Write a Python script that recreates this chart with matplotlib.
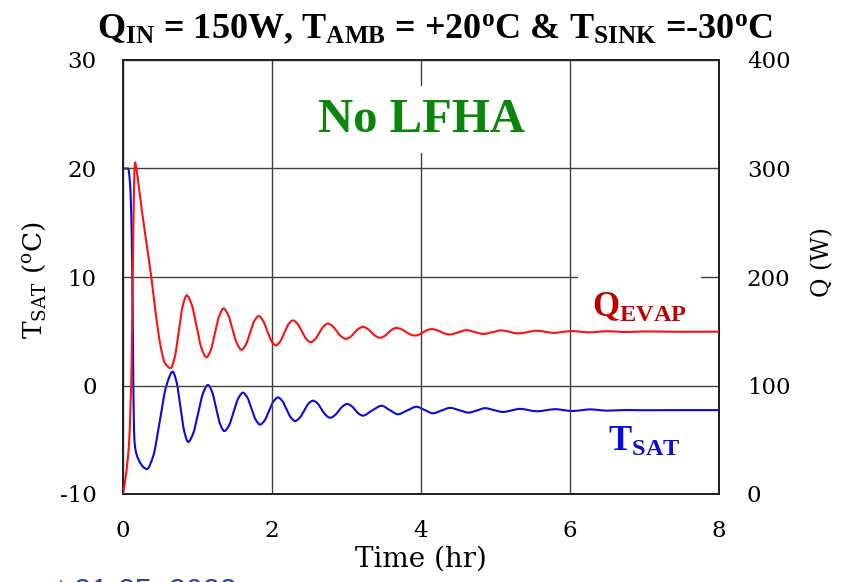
import matplotlib
matplotlib.use("Agg")
import matplotlib.pyplot as plt
from matplotlib.path import Path
from matplotlib.patches import PathPatch

plt.rcParams["font.family"] = "DejaVu Serif"
plt.rcParams["axes.unicode_minus"] = False
plt.rcParams["mathtext.fontset"] = "custom"
plt.rcParams["mathtext.rm"] = "DejaVu Serif"
plt.rcParams["mathtext.it"] = "DejaVu Serif:italic"
plt.rcParams["mathtext.bf"] = "Liberation Serif:bold"

# evaporator heat load, Q (W) vs time (hr)
time_q = [0.0, 0.04, 0.085, 0.1, 0.117, 0.13, 0.145, 0.16, 0.175, 0.2,
          0.25, 0.32, 0.385, 0.44, 0.5, 0.56, 0.64, 0.694, 0.748, 0.801,
          0.855, 0.921, 0.988, 1.054, 1.12, 1.178, 1.235, 1.293,
          1.35, 1.41, 1.47, 1.53, 1.59, 1.648, 1.705, 1.763,
          1.82, 1.878, 1.935, 1.993, 2.05, 2.108, 2.165, 2.223,
          2.28, 2.34, 2.4, 2.46, 2.52, 2.578, 2.635, 2.693,
          2.75, 2.81, 2.87, 2.93, 2.99, 3.048, 3.105, 3.163,
          3.22, 3.278, 3.335, 3.393, 3.45, 3.505, 3.56, 3.615,
          3.67, 3.733, 3.795, 3.858, 3.92, 3.975, 4.03, 4.085,
          4.14, 4.203, 4.265, 4.328, 4.39, 4.5, 4.61, 4.725, 4.84, 4.96,
          5.08, 5.19, 5.3, 5.43, 5.55, 5.67, 5.78, 5.9, 6.02, 6.14, 6.25,
          6.5, 6.75, 7.0, 7.5, 8.0]
q_evap = [0, 18, 51, 80, 124, 200, 270, 306, 302, 290,
          263, 229, 197, 166, 138, 121, 116, 125.8, 149.5, 173.2,
          183, 174.7, 154.5, 134.3, 126, 132.6, 148.5, 164.4,
          171, 165.4, 152, 138.6, 133, 137.5, 148.5, 159.5,
          164, 160, 150.5, 141, 137, 140.4, 148.5, 156.6,
          160, 157.1, 150, 142.9, 140, 142.5, 148.5, 154.5,
          157, 154.9, 150, 145.1, 143, 144.6, 148.5, 152.4,
          154, 152.5, 149, 145.5, 144, 145.3, 148.5, 151.7,
          153, 152, 149.5, 147, 146, 146.9, 149, 151.1,
          152, 151.3, 149.5, 147.7, 147, 149, 151, 149.2, 147.5, 149.2,
          150.8, 149.4, 148, 149.2, 150.5, 149.5, 148.5, 149.3, 150.2, 149.6, 149,
          150, 149.3, 149.8, 149.5, 149.6]

# saturation temperature, T_SAT (degC) vs time (hr)
time_t = [0.0, 0.04, 0.07, 0.09, 0.11, 0.125, 0.135, 0.145, 0.155, 0.18,
          0.23, 0.27, 0.32, 0.407, 0.494, 0.58, 0.667, 0.719, 0.771, 0.823,
          0.875, 0.941, 1.008, 1.074, 1.14, 1.195, 1.25, 1.305,
          1.36, 1.423, 1.485, 1.548, 1.61, 1.668, 1.725, 1.783,
          1.84, 1.9, 1.96, 2.02, 2.08, 2.138, 2.195, 2.253,
          2.31, 2.37, 2.43, 2.49, 2.55, 2.608, 2.665, 2.723,
          2.78, 2.838, 2.895, 2.953, 3.01, 3.063, 3.115, 3.168,
          3.22, 3.345, 3.47, 3.58, 3.69, 3.815, 3.94, 4.05, 4.16, 4.275,
          4.39, 4.515, 4.64, 4.75, 4.86, 4.98, 5.1, 5.215, 5.33, 5.445,
          5.56, 5.68, 5.8, 5.915, 6.03, 6.15, 6.27, 6.385, 6.5,
          6.75, 7.0, 7.5, 8.0]
t_sat = [20, 20, 20, 19, 16, 10, 3, -3, -5.2, -6.3,
         -7.1, -7.5, -7.7, -6.47, -3.27, -0.07, 1.27, 0.32, -1.97, -4.25,
         -5.2, -4.43, -2.58, -0.72, 0.05, -0.57, -2.08, -3.58,
         -4.2, -3.68, -2.43, -1.18, -0.66, -1.09, -2.13, -3.17,
         -3.6, -3.23, -2.35, -1.47, -1.1, -1.42, -2.19, -2.95,
         -3.27, -2.99, -2.34, -1.67, -1.4, -1.63, -2.19, -2.74,
         -2.97, -2.78, -2.34, -1.89, -1.7, -1.86, -2.24, -2.62,
         -2.78, -2.3, -1.87, -2.26, -2.65, -2.3, -1.96, -2.26, -2.56, -2.31,
         -2.06, -2.28, -2.5, -2.3, -2.09, -2.27, -2.44, -2.3, -2.15, -2.27,
         -2.38, -2.28, -2.18, -2.27, -2.35, -2.28, -2.2, -2.26, -2.32,
         -2.26, -2.28, -2.27, -2.27]

x_ticks = [0, 2, 4, 6, 8]
t_ticks = [-10, 0, 10, 20, 30]
q_ticks = [0, 100, 200, 300, 400]


def smooth_path(xs, ys):
    """Monotone cubic Bezier through the points (no overshoot)."""
    n = len(xs)
    d = [(ys[i + 1] - ys[i]) / (xs[i + 1] - xs[i]) for i in range(n - 1)]
    m = [0.0] * n
    m[0], m[-1] = d[0], d[-1]
    for i in range(1, n - 1):
        if d[i - 1] * d[i] > 0:
            h0, h1 = xs[i] - xs[i - 1], xs[i + 1] - xs[i]
            w1, w2 = 2 * h1 + h0, h1 + 2 * h0
            m[i] = (w1 + w2) / (w1 / d[i - 1] + w2 / d[i])
    verts = [(xs[0], ys[0])]
    codes = [Path.MOVETO]
    for i in range(n - 1):
        h = xs[i + 1] - xs[i]
        verts += [(xs[i] + h / 3, ys[i] + m[i] * h / 3),
                  (xs[i + 1] - h / 3, ys[i + 1] - m[i + 1] * h / 3),
                  (xs[i + 1], ys[i + 1])]
        codes += [Path.CURVE4] * 3
    return Path(verts, codes)


fig = plt.figure(figsize=(8.56, 5.82), dpi=100)
ax = fig.add_axes([123 / 856, 1 - 494 / 582, 596 / 856, 434 / 582])
ax2 = ax.twinx()

ax.add_patch(PathPatch(smooth_path(time_t, t_sat), fill=False,
                       edgecolor="#0a0ae0", lw=1.5, capstyle="round"))
# red curve sits above the white label boxes
ax2.add_patch(PathPatch(smooth_path(time_q, q_evap), fill=False,
                        edgecolor="#ff1010", lw=1.5, capstyle="round", zorder=5))

ax.set_xlim(0, 8)
ax.set_ylim(-10, 30)
ax2.set_ylim(0, 400)
ax.set_xticks(x_ticks)
ax.set_yticks(t_ticks)
ax2.set_yticks(q_ticks)
ax.grid(True, color="#404040", lw=1.0)
ax.tick_params(length=0, labelsize=16.5, pad=19)
ax2.tick_params(length=0, labelsize=16.5, pad=20)
for a in (ax, ax2):
    for sp in a.spines.values():
        sp.set_color("#222222")
        sp.set_linewidth(1.4)

ax.set_xlabel("Time (hr)", fontsize=20)
ax.xaxis.set_label_coords(0.5, -0.12)
ax.set_ylabel(r"$\mathrm{T_{SAT}}$ ($\mathrm{^{o}}$C)", fontsize=19)
ax.yaxis.set_label_coords(-0.125, 0.493)
ax2.set_ylabel("Q (W)", fontsize=17, rotation=90)
ax2.yaxis.set_label_coords(1.155, 0.535)

title = (r"$\mathbf{Q_{IN}}$ = 150W, $\mathbf{T_{AMB}}$ = +20$\mathbf{^{o}}$C & "
         r"$\mathbf{T_{SINK}}$ =-30$\mathbf{^{o}}$C")
fig.text(435 / 856, 1 - 38 / 582, title, ha="center", va="baseline",
         fontsize=26, fontweight="bold", family="Liberation Serif")

ax2.text(4.0, 345, "No LFHA", ha="center", va="center", color="#0a870a",
         fontsize=35, fontweight="bold", family="Liberation Serif",
         bbox=dict(facecolor="white", edgecolor="none", pad=8))
ax2.text(6.93, 172, r"$\mathbf{Q_{EVAP}}$", ha="center", va="center",
         color="#c00000", fontsize=25,
         bbox=dict(facecolor="white", edgecolor="none", pad=10))
ax2.text(7.0, 49, r"$\mathbf{T_{SAT}}$", ha="center", va="center",
         color="#0a0ae0", fontsize=25)

fig.text(57 / 856, -0.032, "t 21-25, 2022", color="#3a3aa0", fontsize=22,
         family="Liberation Sans", ha="left", va="baseline")

fig.savefig("out.png", dpi=100)
